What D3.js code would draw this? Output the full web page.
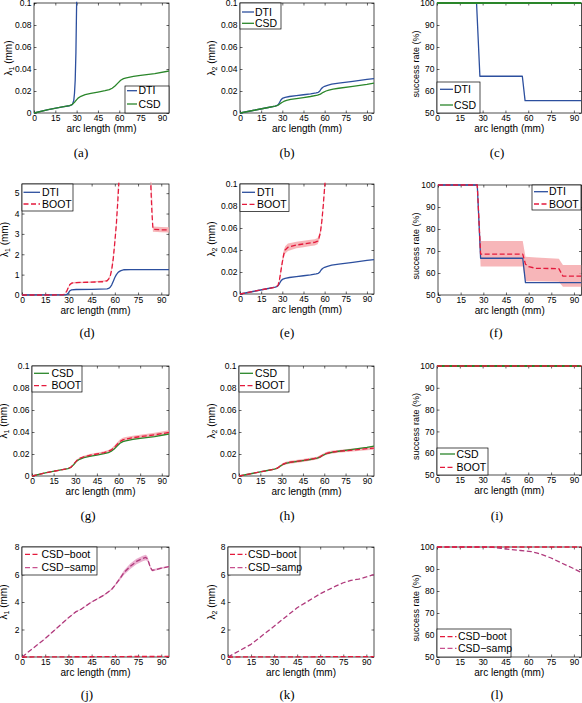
<!DOCTYPE html>
<html><head><meta charset="utf-8">
<script src="https://cdn.jsdelivr.net/npm/d3@7"></script>
<style>
body{margin:0;background:#fff}
svg{display:block}
text{font-family:Arial,"Liberation Sans",Helvetica,sans-serif;fill:#000}
</style>
</head><body><svg id="c" width="582" height="703"></svg>
<script>
// ---------- tick values / labels ----------
const xTicks = [0,15,30,45,60,75,90];
const xTickLabels = ["0","15","30","45","60","75","90"];
const lamTicks = [0,0.02,0.04,0.06,0.08,0.1];
const lamTickLabels = ["0","0.02","0.04","0.06","0.08","0.1"];
const bigTicks = [0,1,2,3,4,5];
const bigTickLabels = ["0","1","2","3","4","5"];
const sampTicks = [0,2,4,6,8];
const sampTickLabels = ["0","2","4","6","8"];
const rateTicks = [50,60,70,80,90,100];
const rateTickLabels = ["50","60","70","80","90","100"];

// ---------- series data (arc length mm -> value) ----------
const dtiL1X = [0,10,20,25,26,27,28,28.5,29,29.5,30,30.5,31,32,35,45,55,56,57,58,59,60,61,62,63,64,66,70,95];
const dtiL1Y = [0,0.003,0.0055,0.0066,0.007,0.0078,0.0115,0.018,0.03,0.055,0.1,0.16,0.21,0.25,0.27,0.28,0.3,0.32,0.38,0.5,0.68,0.86,1.0,1.1,1.16,1.2,1.24,1.25,1.25];

const csdL1X = [0,10,20,25,27,29,31,33,36,40,45,50,53,55,57,59,61,63,65,70,75,85,95];
const csdL1Y = [0,0.003,0.0055,0.0068,0.0078,0.0105,0.0135,0.0152,0.0167,0.0178,0.019,0.0203,0.0213,0.0225,0.0245,0.0272,0.0298,0.0313,0.032,0.0332,0.0342,0.0358,0.0382];

const dbootL1X = [0,20,26,27,28,29,30,31,32,35,45,52,55,56,57,58,59,60,61,62,63,65,75,82,83,84,84.6,85,90,95];
const dbootL1Y = [0,0,0.005,0.02,0.08,0.2,0.38,0.52,0.58,0.61,0.63,0.65,0.7,0.78,0.92,1.25,1.8,2.6,3.5,4.7,6.1,7.2,7.6,7.0,5.8,4.0,3.28,3.22,3.2,3.2];
const dbootL1BandX = [27,29,31,33,45,55,57,59,61,62.5,82.5,83.5,84.6,90,95];
const dbootL1Lo = [0.01,0.17,0.48,0.56,0.6,0.66,0.86,1.65,3.3,5.5,7,5.0,3.1,3.08,3.07];
const dbootL1Hi = [0.03,0.23,0.56,0.64,0.66,0.74,0.98,1.95,3.7,6.2,7,6.6,3.36,3.34,3.33];

const dtiL2X = [0,10,20,25,26,27,28,29,30,32,35,40,45,50,54,55.5,56.5,57.5,58.5,60,62,65,70,80,90,95];
const dtiL2Y = [0,0.0025,0.005,0.0063,0.0067,0.0075,0.0095,0.0118,0.0132,0.0142,0.015,0.0158,0.0166,0.0174,0.0183,0.0188,0.0198,0.0218,0.0232,0.0243,0.0252,0.0262,0.0272,0.0288,0.0305,0.0313];

const csdL2X = [0,10,20,25,26,27,28,29,30,31,33,36,40,45,50,55,57,59,61,63,66,70,80,90,95];
const csdL2Y = [0,0.0025,0.005,0.0062,0.0066,0.0072,0.008,0.009,0.0098,0.0105,0.0115,0.0123,0.013,0.014,0.015,0.0162,0.0172,0.0188,0.02,0.0208,0.0217,0.0225,0.0242,0.026,0.0271];

const dbootL2X = [0,10,20,25,26,27,28,29,30,31,32,34,40,45,50,53,55,56,57,58,59,60,61];
const dbootL2Y = [0,0.0025,0.005,0.0062,0.0067,0.008,0.013,0.021,0.029,0.036,0.04,0.0425,0.0445,0.0455,0.0465,0.047,0.048,0.051,0.056,0.066,0.08,0.097,0.112];
const dbootL2Lo = [0,0.0024,0.0048,0.006,0.0064,0.0074,0.0115,0.0185,0.026,0.0325,0.0365,0.039,0.0415,0.0425,0.0437,0.0442,0.0452,0.048,0.053,0.063,0.077,0.094,0.109];
const dbootL2Hi = [0,0.0026,0.0052,0.0064,0.007,0.0086,0.0145,0.0235,0.032,0.0395,0.0435,0.046,0.0475,0.0485,0.0493,0.0498,0.0508,0.054,0.059,0.069,0.083,0.1,0.115];

const cbootL1X = [0,10,20,25,27,29,31,33,36,40,45,50,53,55,57,59,61,63,65,70,75,85,95];
const cbootL1Y = [0,0.003,0.0055,0.0068,0.008,0.011,0.014,0.016,0.0175,0.0188,0.02,0.0213,0.0224,0.0237,0.0258,0.0287,0.0313,0.0328,0.0335,0.0348,0.0358,0.0374,0.0396];
const cbootL1Lo = [0,0.0029,0.0053,0.0066,0.0077,0.0106,0.0134,0.0152,0.0166,0.0178,0.019,0.0202,0.0212,0.0224,0.0244,0.0272,0.0298,0.0313,0.032,0.0333,0.0343,0.0358,0.0378];
const cbootL1Hi = [0,0.0031,0.0058,0.0071,0.0084,0.0116,0.0148,0.0169,0.0185,0.0199,0.0212,0.0225,0.0237,0.0251,0.0274,0.0304,0.0331,0.0347,0.0354,0.0366,0.0376,0.0393,0.0416];

const cbootL2X = [0,10,20,25,27,29,31,33,36,40,45,50,55,57,59,61,63,66,70,80,90,95];
const cbootL2Y = [0,0.0025,0.005,0.0062,0.0072,0.009,0.0107,0.0117,0.0125,0.0132,0.0141,0.0152,0.0163,0.0175,0.019,0.0203,0.0211,0.0218,0.0224,0.0236,0.0248,0.0254];
const cbootL2Lo = [0,0.0023,0.0046,0.0056,0.0064,0.008,0.0096,0.0105,0.0112,0.0119,0.0128,0.0139,0.015,0.0162,0.0177,0.019,0.0198,0.0205,0.0211,0.0222,0.0233,0.0239];
const cbootL2Hi = [0,0.0027,0.0054,0.0068,0.008,0.01,0.0118,0.0129,0.0138,0.0145,0.0154,0.0165,0.0176,0.0188,0.0203,0.0216,0.0224,0.0231,0.0237,0.025,0.0263,0.0269];

const dtiRateX = [0,26,28.2,56.1,57.9,95];
const dtiRateY = [100,100,66.7,66.7,55.6,55.6];
const fullRateX = [0,95];
const fullRateY = [100,100];
const dbootRateX = [0,26,28.2,56.1,57.9,60,65,80,82.7,95];
const dbootRateY = [100,100,68.6,68.6,64,62.9,62.1,62.0,58.6,58.6];
const dbootRateBandX = [0,26,28.2,56.1,57.9,65,80,82.7,95];
const dbootRateLo = [100,100,62.9,62.9,56.2,56.2,56.0,53.8,53.8];
const dbootRateHi = [100,100,74.5,74.5,67.4,67.0,66.5,63.6,63.6];

const sampL1X = [0,15,30,35,38,45,53,58,60,63,66,70,74,78,80,81,82,83,84.2,86,90,95];
const sampL1Y = [0,1.34,2.85,3.3,3.46,4.0,4.5,4.93,5.2,5.66,6.15,6.6,6.95,7.17,7.24,7.15,6.85,6.5,6.3,6.34,6.46,6.58];
const sampL1Lo = [0,1.32,2.82,3.27,3.43,3.96,4.46,4.88,5.12,5.54,5.99,6.4,6.75,6.97,7.04,6.98,6.7,6.4,6.22,6.27,6.4,6.52];
const sampL1Hi = [0,1.36,2.88,3.33,3.49,4.04,4.54,4.98,5.28,5.78,6.31,6.8,7.15,7.37,7.44,7.32,7.0,6.6,6.38,6.41,6.52,6.64];

const sampL2X = [0,15,30,45,60,70,75,80,85,90,95];
const sampL2Y = [0,0.92,2.24,3.58,4.6,5.15,5.4,5.58,5.66,5.82,6.0];

const sampRateX = [0,30,37,42,48,55,62,66,70,75,81,88,95];
const sampRateY = [100,100,99.8,99.4,98.9,98.4,97.9,97.2,96.3,95.0,93.0,90.8,88.4];

// ---------- styles ----------
const BLUE = "#2c4f9e", GREEN = "#2a862a", RED = "#e41a3c", REDBAND = "#f6a9ad";
const PINK = "#b03a7c", PINKLEG = "#c8508e", PINKBAND = "#e6a3c8";
const DASH = "5,2.5";

function S(x, y, color, dash, w, band) { return {x, y, color, dash, w: w || 1.3, band}; }
function B(x, lo, hi, color) { return {x, lo, hi, color}; }

const lamAxis = {domain:[0,0.1], ticks:lamTicks, labels:lamTickLabels};
const rateAxis = {domain:[50,100], ticks:rateTicks, labels:rateTickLabels};
const bigAxis = {domain:[0,5.45], ticks:bigTicks, labels:bigTickLabels};
const sampAxis = {domain:[0,8], ticks:sampTicks, labels:sampTickLabels};

// layout per panel: box [x0,x1,y0,y1], y label, legend
const panels = [
 {cap:"(a)", capX:81, box:[34,169,3,113], ya:lamAxis, yl:["lam","1"], ylX:8,
  series:[S(dtiL1X,dtiL1Y,BLUE), S(csdL1X,csdL1Y,GREEN)],
  legend:{box:[125,169,86,113], rows:[90.7,104], line:[127,137], tx:138.5,
   items:[["DTI",BLUE,null],["CSD",GREEN,null]]}},
 {cap:"(b)", capX:287, box:[240,374,3,113], ya:lamAxis, yl:["lam","2"], ylX:211,
  series:[S(dtiL2X,dtiL2Y,BLUE), S(csdL2X,csdL2Y,GREEN)],
  legend:{box:[240,281,3,29], rows:[12,23.3], line:[242,254], tx:255,
   items:[["DTI",BLUE,null],["CSD",GREEN,null]]}},
 {cap:"(c)", capX:497, box:[437,581.5,3,113], ya:rateAxis, yl:["rate"], ylX:416,
  series:[S(dtiRateX,dtiRateY,BLUE), S(fullRateX,fullRateY,GREEN,null,2)],
  legend:{box:[437,480,82,113], rows:[89.3,105], line:[440,453], tx:454,
   items:[["DTI",BLUE,null],["CSD",GREEN,null]]}},
 {cap:"(d)", capX:87, box:[22,169,184,295], ya:bigAxis, yl:["lam","1"], ylX:4,
  series:[S(dtiL1X,dtiL1Y,BLUE), S(dbootL1X,dbootL1Y,RED,DASH,1.3,B(dbootL1BandX,dbootL1Lo,dbootL1Hi,REDBAND))],
  legend:{box:[22,73,184,211], rows:[192.3,204], line:[23.5,40], tx:42,
   items:[["DTI",BLUE,null],["BOOT",RED,DASH]]}},
 {cap:"(e)", capX:287, box:[240,374,184,294], ya:lamAxis, yl:["lam","2"], ylX:211,
  series:[S(dtiL2X,dtiL2Y,BLUE), S(dbootL2X,dbootL2Y,RED,DASH,1.3,B(dbootL2X,dbootL2Lo,dbootL2Hi,REDBAND))],
  legend:{box:[240,289,184,211.5], rows:[192.3,204.3], line:[242,255], tx:257,
   items:[["DTI",BLUE,null],["BOOT",RED,DASH]]}},
 {cap:"(f)", capX:496, box:[438,581.5,185,295], ya:rateAxis, yl:["rate"], ylX:416,
  series:[S(dtiRateX,dtiRateY,BLUE), S(dbootRateX,dbootRateY,RED,DASH,1.3,B(dbootRateBandX,dbootRateLo,dbootRateHi,REDBAND))],
  legend:{box:[532,581,185,210], rows:[191.7,204], line:[534,548], tx:549,
   items:[["DTI",BLUE,null],["BOOT",RED,DASH]]}},
 {cap:"(g)", capX:88, box:[32,169,366,476], ya:lamAxis, yl:["lam","1"], ylX:3,
  series:[S(csdL1X,csdL1Y,GREEN), S(cbootL1X,cbootL1Y,RED,DASH,1.3,B(cbootL1X,cbootL1Lo,cbootL1Hi,REDBAND))],
  legend:{box:[32,82,366,392], rows:[373.3,385.7], line:[34,49], tx:51.5,
   items:[["CSD",GREEN,null],["BOOT",RED,DASH]]}},
 {cap:"(h)", capX:287, box:[239,374,366,476], ya:lamAxis, yl:["lam","2"], ylX:211,
  series:[S(csdL2X,csdL2Y,GREEN), S(cbootL2X,cbootL2Y,RED,DASH,1.3,B(cbootL2X,cbootL2Lo,cbootL2Hi,REDBAND))],
  legend:{box:[239,289,366,392], rows:[373.3,385.7], line:[240,253], tx:255,
   items:[["CSD",GREEN,null],["BOOT",RED,DASH]]}},
 {cap:"(i)", capX:497, box:[437,581.5,366,475], ya:rateAxis, yl:["rate"], ylX:416,
  series:[S(fullRateX,fullRateY,GREEN,null,2), S(fullRateX,fullRateY,RED,DASH,1.3)],
  legend:{box:[437,488,448,475], rows:[454,467.3], line:[440,455], tx:456.5,
   items:[["CSD",GREEN,null],["BOOT",RED,DASH]]}},
 {cap:"(j)", capX:87, box:[22,169,547,657], ya:sampAxis, yl:["lam","1"], ylX:3,
  series:[S(sampL1X,sampL1Y,PINK,DASH,1.3,B(sampL1X,sampL1Lo,sampL1Hi,PINKBAND)), S(cbootL1X,cbootL1Y,RED,DASH,1.3)],
  legend:{box:[22,97,547,575], rows:[554.3,567.7], line:[25,40], tx:41.5,
   items:[["CSD\u2212boot",RED,DASH],["CSD\u2212samp",PINKLEG,DASH]]}},
 {cap:"(k)", capX:287, box:[228,374,547,657], ya:sampAxis, yl:["lam","2"], ylX:211,
  series:[S(sampL2X,sampL2Y,PINK,DASH,1.3), S(cbootL2X,cbootL2Y,RED,DASH,1.3)],
  legend:{box:[228,300,547,575], rows:[554.3,567.7], line:[230,246.5], tx:248,
   items:[["CSD\u2212boot",RED,DASH],["CSD\u2212samp",PINKLEG,DASH]]}},
 {cap:"(l)", capX:497, box:[437,581.5,547,657], ya:rateAxis, yl:["rate"], ylX:416,
  series:[S(sampRateX,sampRateY,PINK,DASH,1.3), S(fullRateX,fullRateY,RED,DASH,1.3)],
  legend:{box:[437,511,629,657], rows:[636.7,648.3], line:[440,456.5], tx:458,
   items:[["CSD\u2212boot",RED,DASH],["CSD\u2212samp",PINKLEG,DASH]]}}
];

const svg = d3.select("#c");
const xDomain = [0,95];
const defs = svg.append("defs");

panels.forEach((p, i) => {
  const [x0,x1,y0,y1] = p.box;
  const x = d3.scaleLinear().domain(xDomain).range([x0,x1]);
  const y = d3.scaleLinear().domain(p.ya.domain).range([y1,y0]);
  const g = svg.append("g");

  defs.append("clipPath").attr("id","clip"+i).append("rect")
    .attr("x",x0).attr("y",y0-1.2).attr("width",x1-x0).attr("height",y1-y0+2.4);

  // axes
  const fmtX = d=>xTickLabels[xTicks.indexOf(d)];
  const fmtY = d=>p.ya.labels[p.ya.ticks.indexOf(d)];
  const ax = [
    [d3.axisBottom(x).tickValues(xTicks).tickFormat(fmtX), `translate(0,${y1})`, 1.5],
    [d3.axisTop(x).tickValues(xTicks).tickFormat(""), `translate(0,${y0})`, 0],
    [d3.axisLeft(y).tickValues(p.ya.ticks).tickFormat(fmtY), `translate(${x0},0)`, 2.5],
    [d3.axisRight(y).tickValues(p.ya.ticks).tickFormat(""), `translate(${x1},0)`, 0]
  ];
  ax.forEach(([a,t,pad])=>{
    const ag = g.append("g").attr("transform",t)
      .call(a.tickSizeInner(-2.5).tickSizeOuter(0).tickPadding(pad));
    ag.select(".domain").remove();
    ag.selectAll("line").attr("stroke","#000").attr("stroke-width",0.6);
    ag.selectAll("text").attr("font-size",8.5).attr("font-family","Arial, 'Liberation Sans', sans-serif").attr("fill","#000");
  });
  g.append("rect").attr("x",x0).attr("y",y0).attr("width",x1-x0).attr("height",y1-y0)
    .attr("fill","none").attr("stroke","#000").attr("stroke-width",0.7);

  // bands + lines
  const plot = g.append("g").attr("clip-path",`url(#clip${i})`);
  p.series.forEach(s=>{
    if (s.band) {
      const b = s.band;
      const area = d3.area().x((d,k)=>x(b.x[k])).y0((d,k)=>y(b.lo[k])).y1((d,k)=>y(b.hi[k]));
      plot.append("path").datum(b.x).attr("d",area).attr("fill",b.color).attr("opacity",0.85);
    }
  });
  p.series.forEach(s=>{
    const line = d3.line().x((d,k)=>x(s.x[k])).y((d,k)=>y(s.y[k]));
    plot.append("path").datum(s.x).attr("d",line).attr("fill","none")
      .attr("stroke",s.color).attr("stroke-width",s.w)
      .attr("stroke-dasharray",s.dash||null).attr("stroke-linejoin","round");
  });

  // x label
  g.append("text").attr("x",(x0+x1)/2).attr("y",y1+19).attr("text-anchor","middle")
    .attr("font-size",10).text("arc length (mm)");
  // y label
  const isRate = p.yl[0]!=="lam";
  const yt = g.append("text").attr("text-anchor","middle").attr("dy","0.35em")
    .attr("font-size",isRate?9:10)
    .attr("transform",`translate(${p.ylX},${(y0+y1)/2 + (isRate?6:0)}) rotate(-90)`);
  if (!isRate) {
    yt.append("tspan").text("\u03bb");
    yt.append("tspan").attr("dy",2.5).attr("font-size",7).text(p.yl[1]);
    yt.append("tspan").attr("dy",-2.5).text(" (mm)");
  } else {
    yt.text("success rate (%)");
  }

  // legend
  const L = p.legend;
  g.append("rect").attr("x",L.box[0]).attr("y",L.box[2]).attr("width",L.box[1]-L.box[0])
    .attr("height",L.box[3]-L.box[2]).attr("fill","#fff").attr("stroke","#000").attr("stroke-width",0.7);
  L.items.forEach((it,k)=>{
    g.append("line").attr("x1",L.line[0]).attr("x2",L.line[1]).attr("y1",L.rows[k]).attr("y2",L.rows[k])
      .attr("stroke",it[1]).attr("stroke-width",1.3).attr("stroke-dasharray",it[2]||null);
    g.append("text").attr("x",L.tx).attr("y",L.rows[k]).attr("dy","0.36em")
      .attr("font-size",10.5).text(it[0]);
  });

  // caption
  g.append("text").attr("x",p.capX).attr("y",[157,337,520,699][Math.floor(i/3)])
    .attr("text-anchor","middle").attr("font-size",13)
    .style("font-family","'Liberation Serif','DejaVu Serif',serif").text(p.cap);
});
</script></body></html>
